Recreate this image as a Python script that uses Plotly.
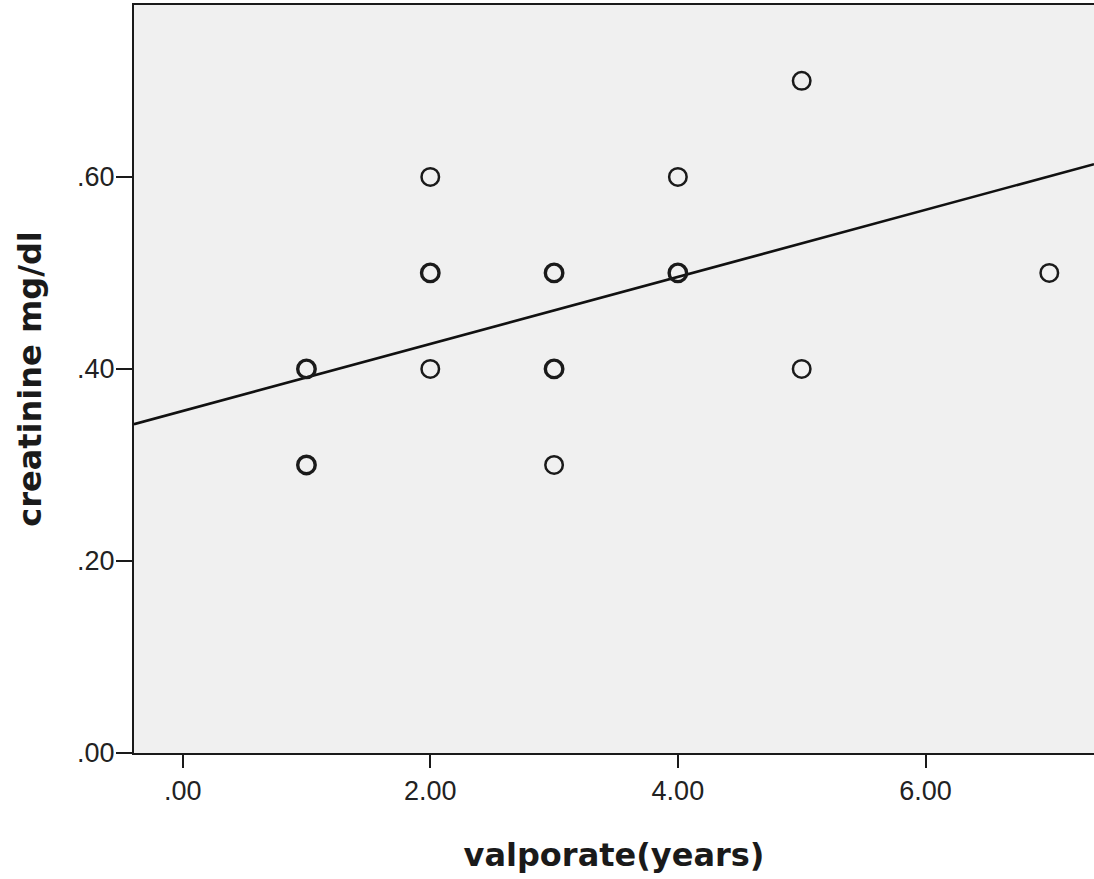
import numpy as np
import plotly.graph_objects as go

years = [1, 1, 2, 2, 2, 3, 3, 3, 4, 4, 5, 5, 7]
creatinine = [0.4, 0.3, 0.6, 0.5, 0.4, 0.5, 0.4, 0.3, 0.6, 0.5, 0.7, 0.4, 0.5]
counts = [4, 4, 1, 4, 1, 3, 2, 1, 1, 2, 1, 1, 1]

x_ticks = [0, 2, 4, 6]
x_ticklabels = [".00", "2.00", "4.00", "6.00"]
y_ticks = [0, 0.2, 0.4, 0.6]
y_ticklabels = [".00", ".20", ".40", ".60"]

x_range = [-0.393, 7.361]
y_range = [0, 0.779]

# expand to individual observations for the regression fit
xs = np.repeat(years, counts)
ys = np.repeat(creatinine, counts)
slope, intercept = np.polyfit(xs, ys, 1)

line_x = np.array(x_range)
line_y = intercept + slope * line_x

fig = go.Figure()
fig.add_trace(go.Scatter(
    x=line_x, y=line_y, mode="lines",
    line=dict(color="#111111", width=2.6),
    hoverinfo="skip", showlegend=False,
))
widths = [2.5 if c == 1 else 3.4 for c in counts]
fig.add_trace(go.Scatter(
    x=years, y=creatinine, mode="markers",
    marker=dict(symbol="circle-open", size=17.5, color="#1a1a1a",
                line=dict(color="#1a1a1a", width=widths)),
    showlegend=False,
))

fig.update_layout(
    width=1094, height=879,
    margin=dict(l=134, r=0, t=5, b=126),
    paper_bgcolor="white",
    plot_bgcolor="#F0F0F0",
    font=dict(family="Liberation Sans, Arial, sans-serif", color="#222222"),
)
fig.update_xaxes(
    range=x_range, tickvals=x_ticks, ticktext=x_ticklabels,
    showgrid=False, zeroline=False,
    showline=True, linecolor="#1a1a1a", linewidth=2, mirror=True,
    ticks="outside", ticklen=13, tickwidth=2, tickcolor="#1a1a1a",
    tickfont=dict(size=27, family="Liberation Sans, Arial, sans-serif", color="#222222"),
    title=dict(text="valporate(years)", standoff=38,
               font=dict(size=32, family="DejaVu Sans", color="#1a1a1a", weight="bold")),
)
fig.update_yaxes(
    range=y_range, tickvals=y_ticks, ticktext=y_ticklabels,
    showgrid=False, zeroline=False,
    showline=True, linecolor="#1a1a1a", linewidth=2, mirror=False,
    ticks="outside", ticklen=16, tickwidth=2, tickcolor="#1a1a1a",
    ticklabelstandoff=-4,
    tickfont=dict(size=27, family="Liberation Sans, Arial, sans-serif", color="#222222"),
    title=dict(text="creatinine mg/dl", standoff=26,
               font=dict(size=32, family="DejaVu Sans", color="#1a1a1a", weight="bold")),
)

fig.write_html("out.html")
